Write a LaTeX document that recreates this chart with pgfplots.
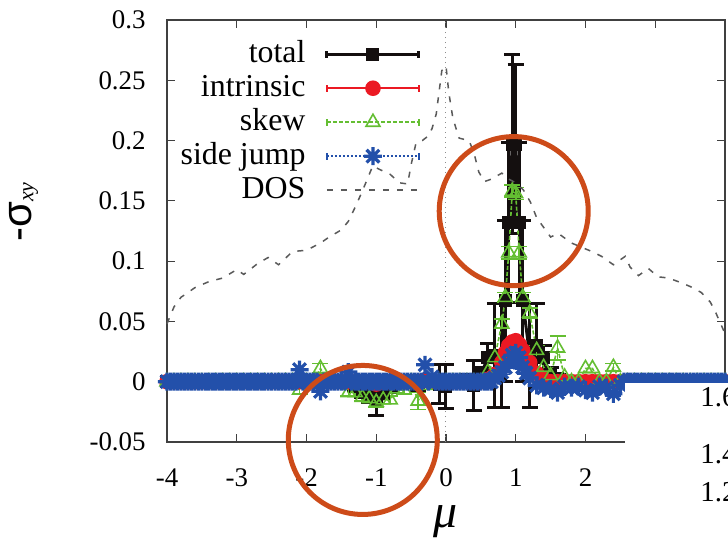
\documentclass[border=0pt]{standalone}
\usepackage{fontspec}
\setmainfont{Liberation Serif}
\newfontfamily\sansfont{Liberation Sans}
\usepackage{pgfplots}
\pgfplotsset{compat=1.18}

\definecolor{cTot}{RGB}{20,15,15}
\definecolor{cInt}{RGB}{235,25,35}
\definecolor{cSkew}{RGB}{100,190,50}
\definecolor{cSJ}{RGB}{35,80,170}
\definecolor{cDOS}{RGB}{90,90,90}
\definecolor{cRing}{RGB}{205,75,25}

% eight-armed asterisk, as gnuplot draws it
\pgfdeclareplotmark{ast8}{%
  \pgfpathmoveto{\pgfqpoint{-\pgfplotmarksize}{0pt}}\pgfpathlineto{\pgfqpoint{\pgfplotmarksize}{0pt}}%
  \pgfpathmoveto{\pgfqpoint{0pt}{-\pgfplotmarksize}}\pgfpathlineto{\pgfqpoint{0pt}{\pgfplotmarksize}}%
  \pgfpathmoveto{\pgfqpoint{-.707\pgfplotmarksize}{-.707\pgfplotmarksize}}\pgfpathlineto{\pgfqpoint{.707\pgfplotmarksize}{.707\pgfplotmarksize}}%
  \pgfpathmoveto{\pgfqpoint{-.707\pgfplotmarksize}{.707\pgfplotmarksize}}\pgfpathlineto{\pgfqpoint{.707\pgfplotmarksize}{-.707\pgfplotmarksize}}%
  \pgfusepathqstroke}

\pgfplotsset{
  errleg/.style={legend image code/.code={
    \draw[mark repeat=2,mark phase=2,##1] plot coordinates {(0bp,0bp)(23bp,0bp)(46bp,0bp)};
    \draw[##1,solid] (0bp,-1.8bp) -- (0bp,1.8bp) (46bp,-1.8bp) -- (46bp,1.8bp);
  }},
  lineleg/.style={legend image code/.code={
    \draw[##1] (0bp,0bp) -- (46bp,0bp);
  }},
  ebars/.style={error bars/.cd, y dir=both, y explicit,
    error bar style={solid, line width=#1},
    error mark options={solid, mark size=4bp, line width=#1, rotate=90}},
}

\begin{document}
\begin{tikzpicture}
\begin{axis}[
  scale only axis, width=279bp, height=211bp,
  xmin=-4, xmax=4, ymin=-0.05, ymax=0.3,
  xtick={-4,-3,...,4},
  xticklabels={-4,-3,-2,-1,0,1,2,{},{}},
  ytick={-0.05,0,0.05,0.1,0.15,0.2,0.25,0.3},
  scaled y ticks=false,
  yticklabel style={/pgf/number format/fixed, /pgf/number format/precision=2},
  /pgf/number format/assume math mode=true,
  tick align=inside, major tick length=4bp,
  tick style={black!75, line width=0.6bp},
  axis line style={black!75, line width=0.8bp},
  tick label style={font=\fontsize{13.5}{15}\selectfont},
  xticklabel style={inner sep=0pt, yshift=-13bp},
  yticklabel style={inner sep=0pt, xshift=-10.5bp},
  xlabel={\fontsize{24}{26}\selectfont\itshape μ},
  xlabel style={at={(axis description cs:0.5,0)}, anchor=center, inner sep=0pt, yshift=-40bp},
  ylabel={{\sansfont\fontsize{21}{24}\selectfont -σ}\raisebox{-1bp}{\fontsize{11}{12}\selectfont\itshape xy}},
  ylabel style={at={(axis description cs:-0.257,0.545)}, anchor=center, inner sep=0pt},
  clip=false,
  legend style={at={(axis description cs:0.455,0.953)}, anchor=north east,
    draw=none, fill=none, inner sep=0pt, column sep=10bp, row sep=3bp,
    font=\fontsize{16}{17}\selectfont,
    nodes={inner sep=0pt, text height=11bp, text depth=3bp}},
  legend cell align=right,
  legend plot pos=right,
]
\draw[black!45, dotted, line width=0.5bp] (axis cs:0,-0.05) -- (axis cs:0,0.3);

% total
\addplot[cTot, line width=1.5bp, mark=square*, mark size=2.5bp, errleg, ebars=1.5bp] coordinates {
(-4,0)(-3.9,0)(-3.8,0)(-3.7,0)(-3.6,0)(-3.5,0)(-3.4,0)(-3.3,0)(-3.2,0)(-3.1,0)
(-3,0)(-2.9,0)(-2.8,0)(-2.7,0)(-2.6,0)(-2.5,0)(-2.4,0)(-2.3,0)(-2.2,0)(-2.1,0)
(-2,0)(-1.9,0)(-1.8,0)(-1.7,0)(-1.6,0)(-1.5,0)(-1.4,0)
(-1.3,-0.004) +- (0,0.003) (-1.2,-0.009) +- (0,0.004) (-1.1,-0.012) +- (0,0.005)
(-1,-0.015) +- (0,0.013) (-0.9,-0.01) +- (0,0.004) (-0.8,-0.005) +- (0,0.003)
(-0.7,0)(-0.6,0)(-0.5,0)(-0.4,-0.003) +- (0,0.004) (-0.3,0)(-0.2,0)
(-0.1,-0.002) +- (0,0.016) (0,-0.004) +- (0,0.018) (0.1,0.001) +- (0,0.004) (0.2,0)
(0.3,0.002) +- (0,0.004) (0.4,-0.003) +- (0,0.021) (0.5,0.006) +- (0,0.006)
(0.6,0.02) +- (0,0.012) (0.7,0.022) +- (0,0.043) (0.8,0.022) +- (0,0.043)
(0.85,0.067) +- (0,0.067) (0.9,0.132) +- (0,0.066) (0.95,0.197) +- (0,0.074)
(1,0.197) +- (0,0.066) (1.05,0.132) +- (0,0.066) (1.1,0.067) +- (0,0.067)
(1.2,0.022) +- (0,0.043) (1.3,0.03) +- (0,0.035) (1.4,0.02) +- (0,0.01)
(1.5,0.006) +- (0,0.006) (1.6,0.003) +- (0,0.003)
(1.7,0)(1.8,0)(1.9,0)(2,0)(2.1,0)(2.2,0)(2.3,0)(2.4,0)(2.5,0)(2.6,0)(2.7,0)(2.8,0)
(2.9,0)(3,0)(3.1,0)(3.2,0)(3.3,0)(3.4,0)(3.5,0)(3.6,0)(3.7,0)(3.8,0)(3.9,0)(4,0)
};
\addlegendentry{total}

% intrinsic
\addplot[cInt, line width=0.8bp, mark=*, mark size=3.5bp, errleg, ebars=0.8bp] coordinates {
(-4,0)(-3.9,0)(-3.8,0)(-3.7,0)(-3.6,0)(-3.5,0)(-3.4,0)(-3.3,0)(-3.2,0)(-3.1,0)
(-3,0)(-2.9,0)(-2.8,0)(-2.7,0)(-2.6,0)(-2.5,0)(-2.4,0)(-2.3,0)(-2.2,0)(-2.1,0)
(-2,0)(-1.9,0)(-1.8,0)(-1.7,0)(-1.6,0)(-1.5,0)(-1.4,0)(-1.3,0)(-1.2,0)(-1.1,0)
(-1,-0.002)(-0.9,0)(-0.8,0)(-0.7,0)(-0.6,0)(-0.5,0)(-0.4,0)(-0.3,0.001)(-0.2,0)(-0.1,0)
(0,0)(0.1,0)(0.2,0)(0.3,0)(0.4,0)(0.5,0)(0.6,0.002)
(0.7,0.006) +- (0,0.001) (0.8,0.016) +- (0,0.001) (0.85,0.024) +- (0,0.001)
(0.9,0.03) +- (0,0.001) (0.95,0.033) +- (0,0.001) (1,0.034) +- (0,0.001)
(1.05,0.031) +- (0,0.001) (1.1,0.026) +- (0,0.001) (1.2,0.016) +- (0,0.001)
(1.3,0.007) +- (0,0.001) (1.4,0.002)
(1.5,0)(1.6,0)(1.7,0)(1.8,0)(1.9,0)(2,0)(2.1,0)(2.2,0)(2.3,0)(2.4,0)(2.5,0)(2.6,0)(2.7,0)(2.8,0)
(2.9,0)(3,0)(3.1,0)(3.2,0)(3.3,0)(3.4,0)(3.5,0)(3.6,0)(3.7,0)(3.8,0)(3.9,0)(4,0)
};
\addlegendentry{intrinsic}

% skew
\addplot[cSkew, line width=0.8bp, dash pattern=on 2bp off 1bp, mark=triangle, mark size=4bp,
  mark options={solid, line width=0.8bp}, errleg, ebars=0.8bp] coordinates {
(-4,0)(-3.9,0)(-3.8,0)(-3.7,0)(-3.6,0)(-3.5,0)(-3.4,0)(-3.3,0)(-3.2,0)(-3.1,0)
(-3,0)(-2.9,0)(-2.8,0)(-2.7,0)(-2.6,0)(-2.5,0)(-2.4,0)(-2.3,0)(-2.2,0)
(-2.1,-0.007) +- (0,0.003) (-2,0)(-1.9,0) (-1.8,0.011) +- (0,0.004) (-1.7,0)(-1.6,0)(-1.5,0)
(-1.4,-0.009) +- (0,0.003) (-1.3,-0.009) (-1.2,-0.013) +- (0,0.003) (-1.1,-0.014)
(-1,-0.017) +- (0,0.004) (-0.9,-0.015) (-0.8,-0.015) +- (0,0.003) (-0.7,-0.006)
(-0.6,-0.007) +- (0,0.003) (-0.5,0) (-0.4,-0.016) +- (0,0.007) (-0.3,-0.003)
(-0.2,0)(-0.1,0)(0,0)(0.1,0)(0.2,0)(0.3,0)(0.4,0)(0.5,0)(0.6,0.008)
(0.7,0.02) +- (0,0.004) (0.8,0.048) +- (0,0.004) (0.85,0.07) +- (0,0.004)
(0.9,0.107) +- (0,0.005) (0.95,0.158) +- (0,0.005) (1,0.156) +- (0,0.005)
(1.05,0.107) +- (0,0.005) (1.1,0.07) +- (0,0.004) (1.2,0.057) +- (0,0.004)
(1.3,0.026) +- (0,0.004) (1.4,0.012) (1.5,0.005) (1.6,0.028) +- (0,0.01) (1.7,0.004)
(1.8,0)(1.9,0)(2,0.011)(2.1,0.011)(2.2,0)(2.3,0)(2.4,0.012) +- (0,0.003) (2.5,0)(2.6,0)(2.7,0)(2.8,0)
(2.9,0)(3,0)(3.1,0)(3.2,0)(3.3,0)(3.4,0)(3.5,0)(3.6,0)(3.7,0)(3.8,0)(3.9,0)(4,0)
};
\addlegendentry{skew}

% side jump
\addplot[cSJ, line width=0.8bp, dash pattern=on 0.8bp off 1.2bp, mark=ast8, mark size=4.5bp,
  mark options={solid, line width=1.6bp}, errleg, ebars=0.8bp] coordinates {
(-4,0)(-3.95,0)(-3.9,0)(-3.85,0)(-3.8,0)(-3.75,0)(-3.7,0)(-3.65,0)(-3.6,0)(-3.55,0)
(-3.5,0)(-3.45,0)(-3.4,0)(-3.35,0)(-3.3,0)(-3.25,0)(-3.2,0)(-3.15,0)(-3.1,0)(-3.05,0)
(-3,0)(-2.95,0)(-2.9,0)(-2.85,0)(-2.8,0)(-2.75,0)(-2.7,0)(-2.65,0)(-2.6,0)(-2.55,0)
(-2.5,0)(-2.45,0)(-2.4,0)(-2.35,0)(-2.3,0)(-2.25,0)(-2.2,0)(-2.15,0)
(-2.1,0.01)(-2.05,0)(-2,0)(-1.95,0)(-1.9,0)(-1.85,0)(-1.8,-0.008)(-1.75,0)(-1.7,0)(-1.65,0)
(-1.6,0)(-1.55,0)(-1.5,0)(-1.45,0)(-1.4,0.008)(-1.35,0)(-1.3,0)(-1.25,0)(-1.2,0)(-1.15,0)
(-1.1,0)(-1.05,0)(-1,0)(-0.95,0)(-0.9,0)(-0.85,0)(-0.8,0)(-0.75,0)(-0.7,0)(-0.65,0)
(-0.6,0)(-0.55,0)(-0.5,0)(-0.45,0)(-0.4,0)(-0.35,0)(-0.3,0.014)(-0.25,0)(-0.2,0.004)(-0.15,0)
(-0.1,0)(-0.05,0)(0,0)(0.05,0)(0.1,0)(0.15,0)(0.2,0)(0.25,0)(0.3,0)(0.35,0)
(0.4,0)(0.45,0)(0.5,0)(0.55,0)(0.6,0)(0.65,0)
(0.7,0.003)(0.75,0.005)(0.8,0.008) +- (0,0.002) (0.85,0.012) (0.9,0.016) +- (0,0.002) (0.95,0.022)
(1,0.024) +- (0,0.002) (1.05,0.02) (1.1,0.012) +- (0,0.002) (1.15,0.007) (1.2,0.003) (1.3,-0.003)
(1.4,-0.005)(1.5,-0.006)(1.6,-0.009) +- (0,0.002) (1.7,-0.004)(1.8,-0.005)(1.9,-0.004)
(2,-0.007)(2.1,-0.009) +- (0,0.002) (2.2,-0.004)(2.3,-0.005)(2.4,-0.01) +- (0,0.002) (2.5,-0.003)
(2.55,0)(2.6,0)(2.65,0)(2.7,0)(2.75,0)(2.8,0)(2.85,0)(2.9,0)(2.95,0)(3,0)
(3.05,0)(3.1,0)(3.15,0)(3.2,0)(3.25,0)(3.3,0)(3.35,0)(3.4,0)(3.45,0)(3.5,0)
(3.55,0)(3.6,0)(3.65,0)(3.7,0)(3.75,0)(3.8,0)(3.85,0)(3.9,0)(3.95,0)(4,0)
};
\addlegendentry{side jump}

% density of states
\addplot[cDOS, line width=0.75bp, dash pattern=on 3bp off 4bp, lineleg] coordinates {
(-4,0.048)(-3.9,0.062)(-3.8,0.070)(-3.6,0.078)(-3.4,0.083)(-3.2,0.086)(-3.0,0.093)
(-2.9,0.089)(-2.7,0.098)(-2.55,0.103)(-2.4,0.097)(-2.2,0.108)(-2.0,0.109)(-1.8,0.115)
(-1.7,0.119)(-1.5,0.126)(-1.4,0.133)(-1.3,0.145)(-1.2,0.158)(-1.1,0.172)(-1.05,0.179)
(-0.95,0.176)(-0.8,0.172)(-0.67,0.165)(-0.55,0.164)(-0.5,0.180)(-0.43,0.198)(-0.34,0.200)
(-0.25,0.204)(-0.2,0.210)(-0.14,0.222)(-0.06,0.258)(0,0.262)(0.04,0.240)(0.1,0.218)
(0.19,0.202)(0.33,0.200)(0.4,0.190)(0.47,0.174)(0.55,0.166)(0.65,0.168)(0.8,0.173)
(0.9,0.168)(1.0,0.165)(1.11,0.159)(1.21,0.149)(1.3,0.136)(1.4,0.128)(1.5,0.120)
(1.61,0.123)(1.8,0.115)(2.09,0.108)(2.23,0.104)(2.4,0.097)(2.57,0.104)(2.64,0.095)
(2.76,0.088)(2.9,0.094)(3.04,0.087)(3.19,0.086)(3.33,0.083)(3.5,0.079)(3.66,0.074)
(3.79,0.066)(3.87,0.057)(3.93,0.049)(4,0.040)
};
\addlegendentry{DOS}

\coordinate (r1) at (axis cs:0.971,0.1415);
\coordinate (r2) at (axis cs:-1.193,-0.0483);
\end{axis}

% annotation rings
\draw[cRing, line width=2.5bp] (r1) circle[radius=37.25bp];
\draw[cRing, line width=2.5bp] (r2) circle[radius=37.25bp];

% corner of the neighbouring panel that overlaps this one
\fill[white] (229bp,29.5bp) rectangle (300bp,-70bp);
\begin{scope}[every node/.style={anchor=west, inner sep=0pt, font=\fontsize{14.5}{16}\selectfont}]
\node at (266.5bp,22.5bp) {1.6};
\node at (266.5bp,-6bp) {1.4};
\node at (266.5bp,-25bp) {1.2};
\end{scope}

\pgfresetboundingbox
\path[use as bounding box] (-83.5bp,-48.5bp) rectangle (280.5bp,221bp);
\end{tikzpicture}
\end{document}
